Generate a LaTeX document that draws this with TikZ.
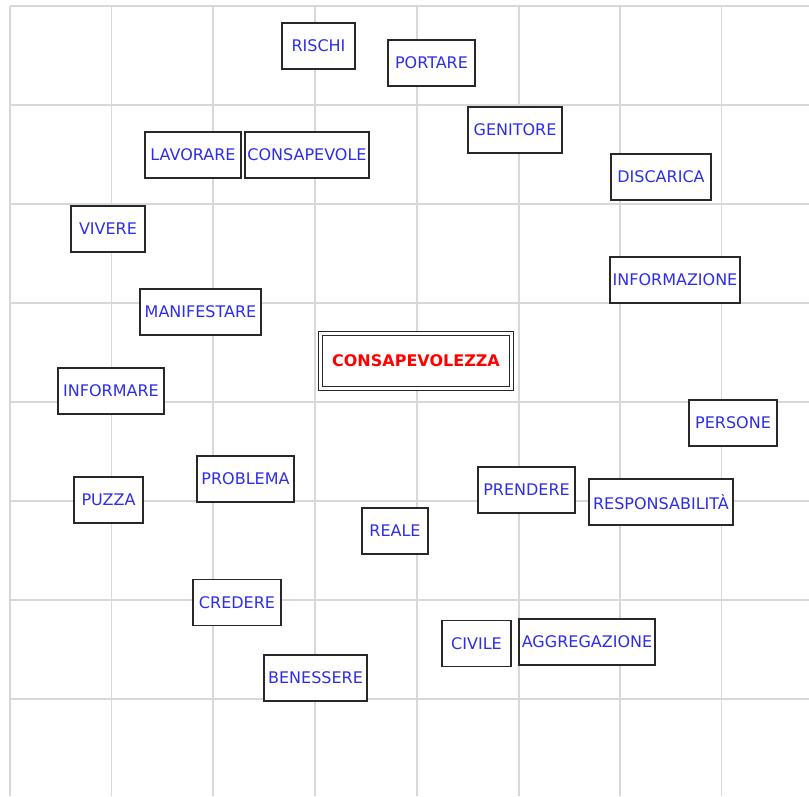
\documentclass[tikz,border=0pt]{standalone}
\usepackage{fontspec}
\setmainfont{DejaVu Sans}
\definecolor{gridc}{RGB}{216,216,216}
\definecolor{boxc}{RGB}{40,40,40}
\definecolor{wordc}{RGB}{45,45,235}
\definecolor{centerc}{RGB}{255,0,0}
\tikzset{
  wordbox/.style={draw=boxc, fill=white, line width=1.4pt, inner sep=0pt,
    minimum height=46pt, text=wordc, font=\fontsize{16}{17}\selectfont},
  centerbox/.style={draw=boxc, fill=white, double=white, double distance=2.2pt,
    line width=1pt, inner sep=0pt, minimum height=55pt, minimum width=191pt,
    text=centerc, font=\fontsize{16}{17}\selectfont\bfseries},
  gridline/.style={draw=gridc, line width=1.6pt}
}
\begin{document}
\begin{tikzpicture}[x=1pt,y=-1pt]
\useasboundingbox (0,0) rectangle (809,796);
\fill[white] (0,0) rectangle (809,796);
% grid
\foreach \gx in {10,111.5,213,315,417,519,620,721.5}
  \draw[gridline] (\gx,6) -- (\gx,796);
\foreach \gy in {6,105,204,303,402,501,600,699}
  \draw[gridline] (10,\gy) -- (809,\gy);
% words
\node[wordbox, minimum width=73pt]  (rischi)   at (318.5,46)  {RISCHI};
\node[wordbox, minimum width=87pt]  (portare)  at (431.5,63)  {PORTARE};
\node[wordbox, minimum width=94pt]  (genitore) at (515,130)   {GENITORE};
\node[wordbox, minimum width=96pt]  (lavorare) at (193,155)   {LAVORARE};
\node[wordbox, minimum width=124pt] (consapevole) at (307,155) {CONSAPEVOLE};
\node[wordbox, minimum width=100pt] (discarica) at (661,177)  {DISCARICA};
\node[wordbox, minimum width=74pt]  (vivere)   at (108,229)   {VIVERE};
\node[wordbox, minimum width=130pt] (informazione) at (675,280) {INFORMAZIONE};
\node[wordbox, minimum width=121pt] (manifestare) at (200.5,312) {MANIFESTARE};
\node[centerbox] (consapevolezza) at (416,361) {CONSAPEVOLEZZA};
\node[wordbox, minimum width=106pt] (informare) at (111,391)  {INFORMARE};
\node[wordbox, minimum width=88pt]  (persone)  at (733,423)   {PERSONE};
\node[wordbox, minimum width=97pt]  (problema) at (245.5,479) {PROBLEMA};
\node[wordbox, minimum width=69pt]  (puzza)    at (108.5,500) {PUZZA};
\node[wordbox, minimum width=97pt]  (prendere) at (526.5,490) {PRENDERE};
\node[wordbox, minimum width=144pt] (responsabilita) at (661,502) {RESPONSABILITÀ};
\node[wordbox, minimum width=66pt]  (reale)    at (395,531)   {REALE};
\node[wordbox, minimum width=88pt]  (credere)  at (237,602.5) {CREDERE};
\node[wordbox, minimum width=69pt]  (civile)   at (476.5,643.5) {CIVILE};
\node[wordbox, minimum width=136pt] (aggregazione) at (587,642) {AGGREGAZIONE};
\node[wordbox, minimum width=103pt] (benessere) at (315.5,678) {BENESSERE};
\end{tikzpicture}
\end{document}
